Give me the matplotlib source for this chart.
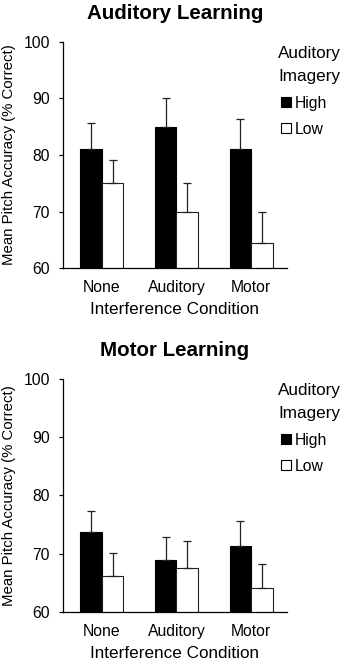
"""
Pitch accuracy by interference condition (two panels)
"""
import matplotlib
matplotlib.use("Agg")
import matplotlib.pyplot as plt
from matplotlib.lines import Line2D
import numpy as np

plt.rcParams['font.family'] = ['Liberation Sans', 'DejaVu Sans']

conditions = ["None", "Auditory", "Motor"]
groups = ["High", "Low"]

# Auditory Learning panel
aud_high = [81.0, 85.0, 81.0]
aud_high_err = [4.6, 5.0, 5.4]
aud_low = [75.0, 70.0, 64.5]
aud_low_err = [4.2, 5.0, 5.4]

# Motor Learning panel
mot_high = [73.8, 69.0, 71.4]
mot_high_err = [3.5, 3.9, 4.3]
mot_low = [66.2, 67.6, 64.2]
mot_low_err = [4.0, 4.6, 4.1]

panels = [
    ("Auditory Learning", aud_high, aud_high_err, aud_low, aud_low_err),
    ("Motor Learning", mot_high, mot_high_err, mot_low, mot_low_err),
]

W, H = 347, 664
fig = plt.figure(figsize=(W / 100, H / 100), dpi=100)

# axes boxes in pixels: left, top, right, bottom
boxes = [(63, 42, 287, 268), (63, 379, 287, 612)]

x = np.arange(len(conditions))
w = 0.29
for (title, hi, hi_e, lo, lo_e), (l, t, r, b) in zip(panels, boxes):
    ax = fig.add_axes([l / W, 1 - b / H, (r - l) / W, (b - t) / H])
    ekw = dict(elinewidth=0.9, capsize=3, capthick=0.9, ecolor='#222222')
    ax.bar(x - w / 2, hi, w, color='black', edgecolor='black', linewidth=0.8,
           yerr=[np.zeros(3), hi_e], error_kw=ekw)
    ax.bar(x + w / 2, lo, w, color='white', edgecolor='#222222', linewidth=0.8,
           yerr=[np.zeros(3), lo_e], error_kw=ekw)
    ax.set_ylim(60, 100)
    ax.set_xlim(-0.52, 2.48)
    ax.set_yticks([60, 70, 80, 90, 100])
    ax.set_xticks(x)
    ax.set_xticklabels(conditions, fontsize=11.3)
    ax.tick_params(axis='y', labelsize=11.3, length=3, width=0.9, pad=6.5)
    ax.tick_params(axis='x', length=0, pad=8.5)
    for s in ['top', 'right']:
        ax.spines[s].set_visible(False)
    for s in ['left', 'bottom']:
        ax.spines[s].set_linewidth(0.9)
    ax.set_xlabel("Interference Condition", fontsize=12.3, labelpad=5)
    ax.set_ylabel("Mean Pitch Accuracy (% Correct)", fontsize=10.8, labelpad=5)
    ax.set_title(title, fontsize=14.8, fontweight='bold', pad=16.5)

    handles = [Line2D([], [], ls='none', marker='s', markersize=6.5,
                      markerfacecolor=fc, markeredgecolor='black',
                      markeredgewidth=0.8)
               for fc in ['black', 'white']]
    leg = ax.legend(handles, groups, title="Auditory\nImagery",
                    loc='upper left', bbox_to_anchor=(0.96, 0.982),
                    frameon=False, fontsize=11.3, title_fontsize=12.3,
                    handlelength=1.0, handletextpad=0.05, labelspacing=0.72,
                    borderpad=0, borderaxespad=0)
    leg._legend_box.align = "left"
    leg.get_title().set_linespacing(1.68)

fig.savefig("out.png", dpi=100)
